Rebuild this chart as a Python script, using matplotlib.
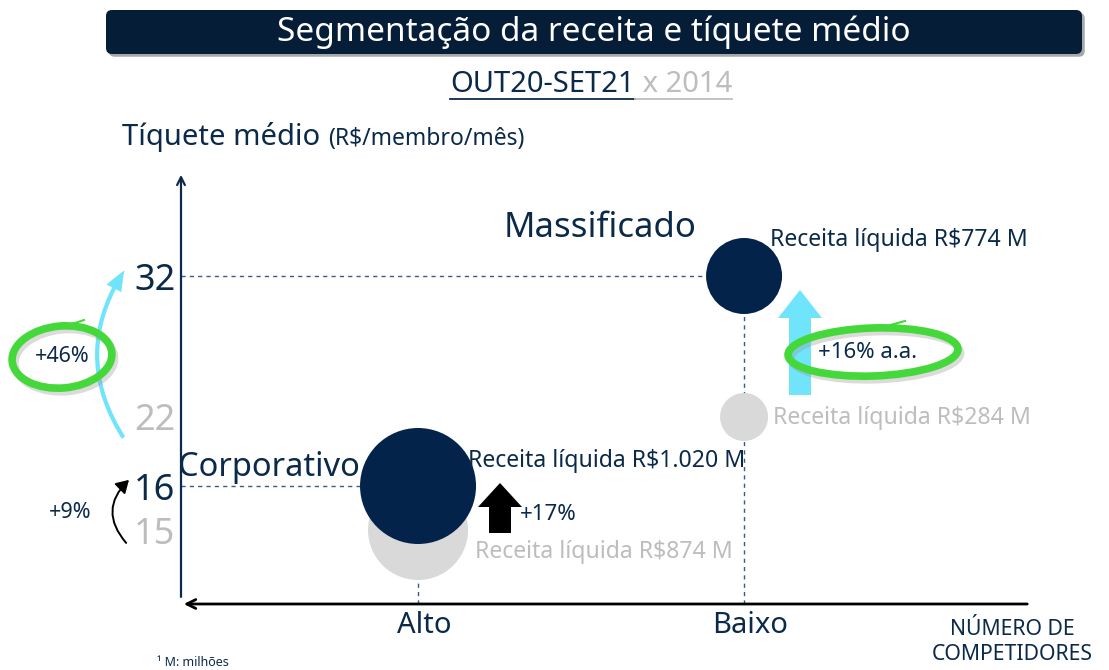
import matplotlib
matplotlib.use("Agg")
import matplotlib.pyplot as plt
import numpy as np
from matplotlib.patches import FancyBboxPatch, Ellipse, FancyArrow, FancyArrowPatch
from matplotlib import patheffects as pe

plt.rcParams["font.family"] = ["Noto Sans", "DejaVu Sans"]

# data
segments = ["Corporativo", "Massificado"]
competition = ["Alto", "Baixo"]
ticket_2014 = [15, 22]
ticket_now = [16, 32]
revenue_2014 = [874, 284]
revenue_now = [1020, 774]
ticket_growth = ["+9%", "+46%"]
revenue_growth = ["+17%", "+16% a.a."]
period_now = "OUT20-SET21"
period_old = "2014"

NAVY = "#0b2a4a"
BUBBLE = "#03234a"
GRAY_B = "#d9d9d9"
GRAY_T = "#bdbdbd"
GREEN = "#45d83a"
CYAN = "#6fe4fb"

W, H = 1109, 670
fig = plt.figure(figsize=(W / 100, H / 100), dpi=100)

# background axes in pixel coords for decorations
bg = fig.add_axes([0, 0, 1, 1])
bg.set_xlim(0, W)
bg.set_ylim(H, 0)
bg.axis("off")

# data axes with a piecewise (non-linear) ticket scale, as in the original slide
tick_vals = sorted(ticket_2014 + ticket_now)
rows = np.array([604, 530, 486, 417, 276, 172], dtype=float)
knots = np.array([13.6] + tick_vals + [39.4])


def fwd(y):
    return np.interp(y, knots, -rows)


def inv(h):
    return np.interp(h, -rows, knots)


ax = fig.add_axes([181 / W, 1 - 604 / H, (1030 - 181) / W, (604 - 172) / H])
ax.set_yscale("function", functions=(fwd, inv))
ax.set_ylim(knots[0], knots[-1])
xs = np.arange(len(competition))
ax.set_xlim(-0.727, 1.877)
ax.patch.set_alpha(0)
for s in ax.spines.values():
    s.set_visible(False)

# guides
dash = dict(color="#3b5a86", lw=1, ls=(0, (3, 3)), zorder=1)
ax.plot([ax.get_xlim()[0], xs[1]], [ticket_now[1]] * 2, **dash)
ax.plot([ax.get_xlim()[0], xs[0]], [ticket_now[0]] * 2, **dash)
for i in range(len(xs)):
    ax.plot([xs[i]] * 2, [knots[0], ticket_now[i]], **dash)

# bubbles (radii in px chosen to match slide)
r_old = [50, 24]
r_now = [58, 38]
to_s = lambda r: (2 * r * 0.72) ** 2
ax.scatter(xs, ticket_2014, s=[to_s(r) for r in r_old], color=GRAY_B, zorder=2, lw=0)
ax.scatter(xs, ticket_now, s=[to_s(r) for r in r_now], color=BUBBLE, zorder=3, lw=0)

# axes arrows
ax.annotate("", xy=(0, 1), xytext=(0, 0.01), xycoords="axes fraction",
            arrowprops=dict(arrowstyle="->", color=NAVY, lw=1.6, mutation_scale=14))
ax.annotate("", xy=(0, 0), xytext=(1, 0), xycoords="axes fraction",
            arrowprops=dict(arrowstyle="->", color="black", lw=2, mutation_scale=16))

# ticks
ax.set_yticks(tick_vals)
ax.set_yticklabels([str(v) for v in tick_vals], fontsize=26)
for lab, v in zip(ax.get_yticklabels(), tick_vals):
    lab.set_color(NAVY if v in ticket_now else GRAY_T)
ax.set_xticks(xs + 0.02)
ax.set_xticklabels(competition, fontsize=21, color=NAVY)
ax.tick_params(length=0, pad=4)
ax.tick_params(axis="x", pad=5)

# bubble labels
lab_now_off = [(50, 25), (26, 36)]
lab_old_off = [(57, -22), (29, -1)]
for i in range(len(xs)):
    ax.annotate(f"Receita líquida R${revenue_now[i]:,} M".replace(",", "."),
                (xs[i], ticket_now[i]), xytext=lab_now_off[i], textcoords="offset pixels",
                ha="left", va="center", fontsize=16.6, color=NAVY, zorder=5)
    ax.annotate(f"Receita líquida R${revenue_2014[i]} M",
                (xs[i], ticket_2014[i]), xytext=lab_old_off[i], textcoords="offset pixels",
                ha="left", va="center", fontsize=16.6, color=GRAY_T, zorder=5)
ax.annotate(segments[0], (xs[0], ticket_now[0]), xytext=(-58, 19), textcoords="offset pixels",
            ha="right", va="center", fontsize=23.5, color=NAVY)
ax.annotate(segments[1], (xs[1], ticket_now[1]), xytext=(-144, 48), textcoords="offset pixels",
            ha="center", va="center", fontsize=25, color=NAVY)

# title bar
bar = FancyBboxPatch((106, 10), 976, 44, boxstyle="round,pad=0,rounding_size=6",
                     fc="#061d38", ec="none", zorder=1,
                     path_effects=[pe.SimplePatchShadow(offset=(2, -2), alpha=0.35), pe.Normal()])
bg.add_patch(bar)
bg.text(594, 32, "Segmentação da receita e tíquete médio", color="white", fontsize=24,
        ha="center", va="center", zorder=2)

fig.canvas.draw()
rend = fig.canvas.get_renderer()

# subtitle with underline
t1 = bg.text(450, 85, period_now, color=NAVY, fontsize=21, ha="left", va="center")
bb = t1.get_window_extent(rend)
x_end = bb.x1
t2 = bg.text(x_end, 85, " x " + period_old, color=GRAY_T, fontsize=21, ha="left", va="center")
bb2 = t2.get_window_extent(rend)
bg.plot([450, x_end], [99, 99], color=NAVY, lw=1.3)
bg.plot([x_end, bb2.x1], [99, 99], color=GRAY_T, lw=1.3)

# y axis title
t3 = bg.text(122, 137, "Tíquete médio", color=NAVY, fontsize=21, ha="left", va="center")
bb3 = t3.get_window_extent(rend)
bg.text(bb3.x1 + 8, 139, "(R$/membro/mês)", color=NAVY, fontsize=16.5, ha="left", va="center")

# x axis title
bg.text(1012, 642, "NÚMERO DE\nCOMPETIDORES", color=NAVY, fontsize=15.3, ha="center",
        va="center", linespacing=1.25)
bg.text(157, 662, "¹ M: milhões", color=NAVY, fontsize=9, ha="left", va="center")

# growth markers
bg.add_patch(FancyArrow(500, 533, 0, -50, width=22, head_width=44, head_length=24,
                        length_includes_head=True, color="black", lw=0))
bg.text(520, 514, revenue_growth[0], color=NAVY, fontsize=16, ha="left", va="center")
bg.add_patch(FancyArrow(800, 395, 0, -105, width=22, head_width=44, head_length=28,
                        length_includes_head=True, color=CYAN, lw=0))


def ring(center, w, h, angle, tail):
    cx, cy = center
    bg.add_patch(Ellipse((cx + 3, cy + 4), w, h, angle=angle, fill=False, ec="#999999",
                         lw=5, alpha=0.35))
    bg.add_patch(Ellipse(center, w, h, angle=angle, fill=False, ec=GREEN, lw=5.5))
    bg.plot(tail[0], tail[1], color=GREEN, lw=1.5)


ring((873, 352), 170, 48, -2, ([872, 905], [330, 321]))
bg.text(868, 352, revenue_growth[1], color=NAVY, fontsize=16, ha="center", va="center")

bg.add_patch(FancyArrowPatch((125, 440), (126, 268), connectionstyle="arc3,rad=-0.33",
                             arrowstyle="simple,head_width=8,head_length=10,tail_width=2",
                             color=CYAN, lw=0, mutation_scale=1.5))
ring((62, 357), 100, 62, -5, ([66, 84], [326, 320]))
bg.text(62, 357, ticket_growth[1], color=NAVY, fontsize=15.5, ha="center", va="center")

bg.add_patch(FancyArrowPatch((128, 545), (131, 478), connectionstyle="arc3,rad=-0.5",
                             arrowstyle="-|>,head_width=3,head_length=5", color="black",
                             lw=1.4, mutation_scale=1.5))
bg.text(70, 512, ticket_growth[0], color=NAVY, fontsize=15.5, ha="center", va="center")

fig.savefig("out.png", dpi=100)
